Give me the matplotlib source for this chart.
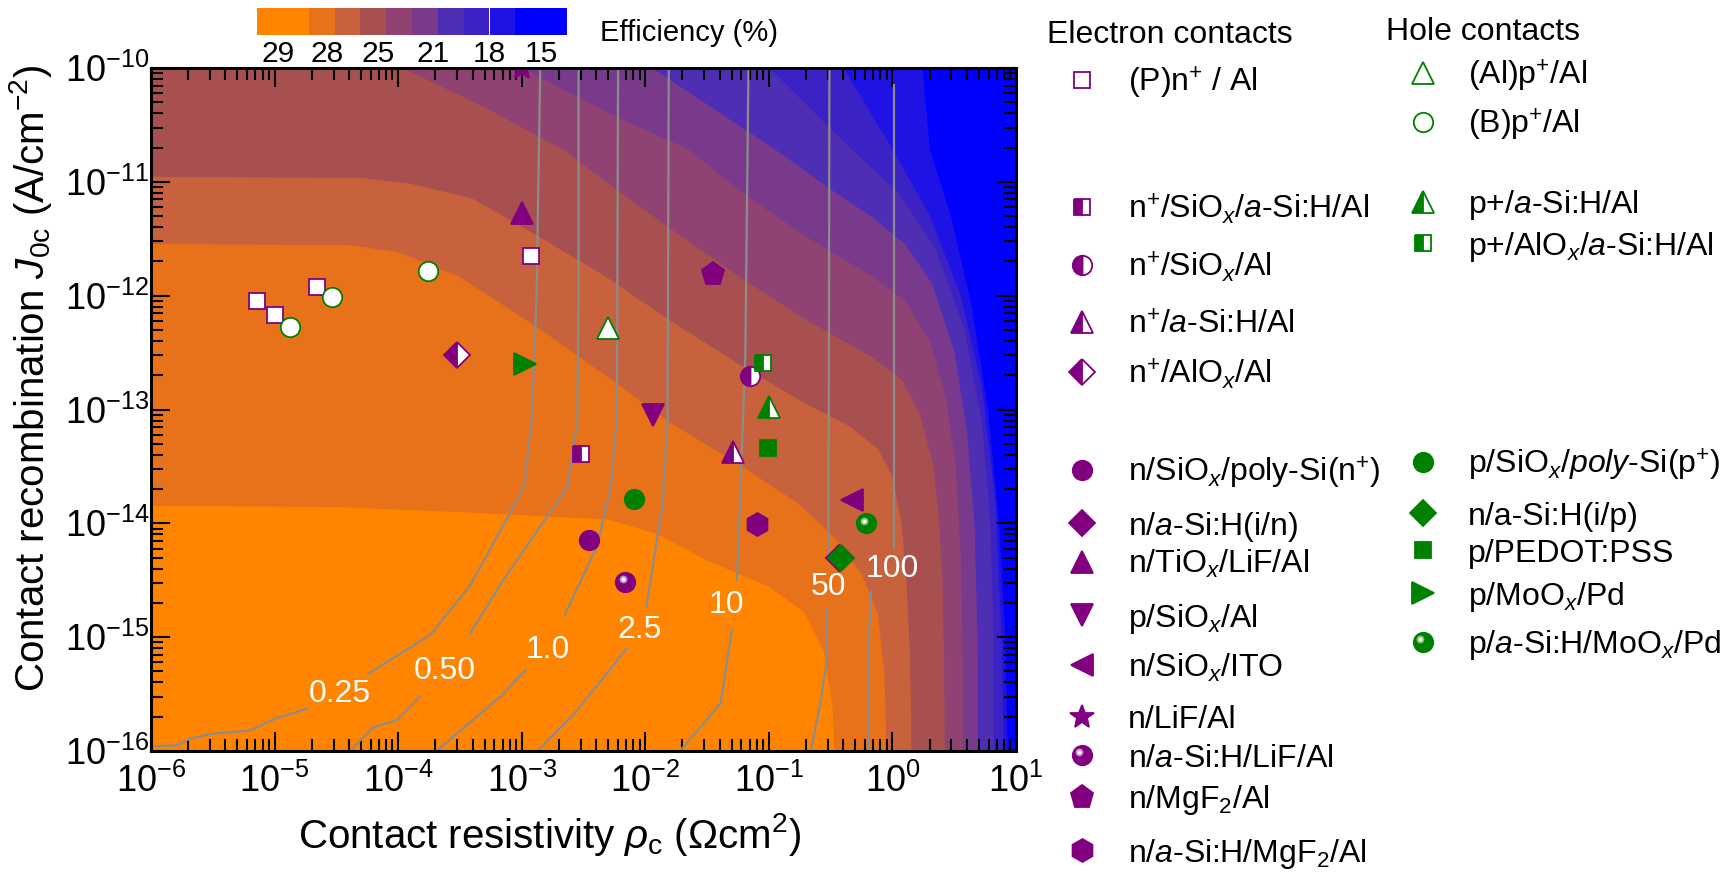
import numpy as np
import matplotlib
matplotlib.use("Agg")
import matplotlib.pyplot as plt
from matplotlib.ticker import LogLocator, NullFormatter, LogFormatterSciNotation
from matplotlib.transforms import ScaledTranslation

plt.rcParams["font.family"] = ["Liberation Sans", "DejaVu Sans"]
plt.rcParams["mathtext.fontset"] = "custom"
plt.rcParams["mathtext.rm"] = "Liberation Sans"
plt.rcParams["mathtext.it"] = "Liberation Sans:italic"
plt.rcParams["mathtext.bf"] = "Liberation Sans:bold"
plt.rcParams["mathtext.sf"] = "Liberation Sans"

PURPURA = "#800080"
VERDE = "#008000"
GRIS = "#8C8C8C"

# colores de las bandas de eficiencia (de mayor a menor eficiencia)
colores_banda = ["#FF8400", "#E8721A", "#C8623C", "#A85050", "#904272",
                 "#7A3A8C", "#4E2EB2", "#3A22C4", "#1E12E4", "#0000FF"]
etiquetas_barra = ["29", "28", "25", "21", "18", "15"]

# fronteras entre bandas, puntos (log10 rho_c, log10 J0c)
borde_1 = [(-6.0, -13.85), (-4.5, -13.86), (-3.4, -13.91), (-2.3, -13.97), (-1.9, -14.1),
           (-1.5, -14.33), (-1.0, -14.56), (-0.72, -14.78), (-0.56, -15.12), (-0.49, -15.6), (-0.47, -16.0)]
borde_2 = [(-6.0, -11.55), (-4.4, -11.56), (-4.0, -11.62), (-3.5, -11.84), (-2.85, -12.3),
           (-2.2, -12.8), (-1.8, -13.12), (-1.25, -13.48), (-0.75, -13.84), (-0.45, -14.15),
           (-0.25, -14.45), (-0.12, -14.8), (-0.07, -15.3), (-0.05, -16.0)]
borde_3 = [(-6.0, -10.96), (-4.3, -10.97), (-3.9, -11.02), (-3.4, -11.15), (-2.87, -11.48),
           (-2.33, -11.83), (-1.79, -12.23), (-1.25, -12.6), (-0.71, -12.95), (-0.35, -13.15),
           (-0.12, -13.35), (0.0, -13.6), (0.07, -14.0), (0.11, -14.5), (0.14, -15.2), (0.15, -16.0)]
borde_4 = [(-3.97, -10.0), (-3.3, -10.35), (-2.67, -10.72), (-2.2, -11.1), (-1.79, -11.42),
           (-1.25, -11.83), (-0.71, -12.21), (-0.17, -12.54), (0.08, -12.75), (0.22, -13.05),
           (0.32, -13.45), (0.37, -13.9), (0.4, -14.5), (0.415, -15.2), (0.42, -16.0)]
borde_5 = [(-3.0, -10.0), (-2.3, -10.4), (-1.65, -10.72), (-1.25, -11.07), (-0.71, -11.48),
           (-0.17, -11.83), (0.1, -12.05), (0.3, -12.4), (0.43, -12.9), (0.51, -13.5),
           (0.55, -14.3), (0.565, -15.2), (0.57, -16.0)]
borde_6 = [(-1.95, -10.0), (-0.95, -10.72), (-0.5, -11.07), (-0.17, -11.31), (0.1, -11.55),
           (0.32, -11.9), (0.5, -12.5), (0.6, -13.2), (0.66, -14.0), (0.685, -15.0), (0.69, -16.0)]
borde_7 = [(-1.0, -10.0), (-0.33, -10.72), (0.05, -11.1), (0.35, -11.6), (0.58, -12.3),
           (0.72, -13.1), (0.79, -14.0), (0.815, -15.0), (0.82, -16.0)]
borde_8 = [(-0.4, -10.0), (0.0, -10.72), (0.3, -11.3), (0.55, -12.0), (0.72, -12.8),
           (0.83, -13.8), (0.88, -15.0), (0.9, -16.0)]
borde_9 = [(0.24, -10.0), (0.3, -10.72), (0.47, -11.3), (0.64, -12.1), (0.77, -13.0),
           (0.86, -14.0), (0.91, -15.0), (0.93, -16.0)]
bordes = [borde_1, borde_2, borde_3, borde_4, borde_5, borde_6, borde_7, borde_8, borde_9]

# lineas de contorno grises: tramo inferior, tramo superior y posicion de la etiqueta
iso_025 = ([(-6.0, -15.96), (-5.79, -15.95), (-5.68, -15.89), (-5.52, -15.85), (-5.2, -15.82),
            (-4.98, -15.71), (-4.74, -15.63)],
           [(-4.24, -15.32), (-3.74, -14.98), (-3.42, -14.55), (-3.15, -14.02), (-2.98, -13.68),
            (-2.92, -13.1), (-2.88, -12.0), (-2.85, -10.0)], (-4.47, -15.5), "0.25")
iso_050 = ([(-4.39, -16.0), (-4.2, -15.79), (-4.01, -15.73), (-3.82, -15.52)],
           [(-3.42, -14.97), (-3.15, -14.5), (-2.87, -14.06), (-2.63, -13.68), (-2.55, -13.09),
            (-2.54, -12.0), (-2.54, -10.0)], (-3.62, -15.3), "0.50")
iso_1 = ([(-3.69, -16.0), (-3.17, -15.52), (-2.97, -15.29)],
         [(-2.65, -14.8), (-2.39, -14.2), (-2.28, -13.68), (-2.23, -13.09), (-2.22, -10.0)],
         (-2.79, -15.11), "1.0")
iso_25 = ([(-2.87, -16.0), (-2.55, -15.64), (-2.15, -15.1)],
          [(-1.99, -14.73), (-1.94, -14.38), (-1.86, -13.83), (-1.82, -13.09), (-1.81, -10.0)],
          (-2.05, -14.94), "2.5")
iso_10 = ([(-1.72, -16.0), (-1.39, -15.58), (-1.3, -14.94)],
          [(-1.26, -14.5), (-1.25, -14.3), (-1.21, -13.1), (-1.19, -12.5), (-1.165, -10.0)],
          (-1.34, -14.72), "10")
iso_50 = ([(-0.66, -16.0), (-0.58, -15.56), (-0.53, -15.2), (-0.53, -14.75)],
          [(-0.52, -14.32), (-0.515, -13.0), (-0.51, -10.0)], (-0.52, -14.56), "50")
iso_100 = ([(-0.19, -16.0), (-0.19, -14.95), (-0.17, -14.6)],
           [(0.01, -14.22), (0.01, -10.15)], (0.0, -14.4), "100")
isolineas = [iso_025, iso_050, iso_1, iso_25, iso_10, iso_50, iso_100]

# datos de contactos (rho_c en Ohm cm2, J0c en A/cm2)
x_pn_al = [7.2e-6, 1.0e-5, 2.2e-5, 1.19e-3]
y_pn_al = [9.0e-13, 6.8e-13, 1.18e-12, 2.23e-12]
x_n_siox_asi = [3.0e-3]
y_n_siox_asi = [4.05e-14]
x_n_siox = [0.0706]
y_n_siox = [1.98e-13]
x_n_asi = [0.0508]
y_n_asi = [4.25e-14]
x_n_alox = [3.0e-4]
y_n_alox = [3.0e-13]
x_n_poly = [3.5e-3]
y_n_poly = [7.2e-15]
x_n_asi_in = [0.372]
y_n_asi_in = [5.0e-15]
x_n_tiox = [1.0e-3]
y_n_tiox = [5.3e-12]
x_p_siox_al = [0.0116]
y_p_siox_al = [8.9e-14]
x_n_ito = [0.47]
y_n_ito = [1.6e-14]
x_n_lif = [1.0e-3]
y_n_lif = [1.0e-10]
x_n_asi_lif = [6.9e-3]
y_n_asi_lif = [3.06e-15]
x_n_mgf = [0.035]
y_n_mgf = [1.55e-12]
x_n_asi_mgf = [0.08]
y_n_asi_mgf = [9.8e-15]

x_alp_al = [5.0e-3]
y_alp_al = [5.2e-13]
x_bp_al = [1.33e-5, 2.9e-5, 1.74e-4]
y_bp_al = [5.3e-13, 9.7e-13, 1.66e-12]
x_p_asi = [0.1]
y_p_asi = [1.05e-13]
x_p_alox = [0.09]
y_p_alox = [2.54e-13]
x_p_poly = [8.1e-3]
y_p_poly = [1.62e-14]
x_n_asi_ip = [0.385]
y_n_asi_ip = [5.0e-15]
x_p_pedot = [0.099]
y_p_pedot = [4.6e-14]
x_p_moox = [1.06e-3]
y_p_moox = [2.5e-13]
x_p_asi_moox = [0.61]
y_p_asi_moox = [1.0e-14]

# (etiqueta, x, y, marcador, color, relleno, tamaño)
electrones = [
    ("(P)n$^{+}$ / Al", x_pn_al, y_pn_al, "s", PURPURA, "vacio", 12),
    ("n$^{+}$/SiO$_{x}$/$a$-Si:H/Al", x_n_siox_asi, y_n_siox_asi, "s", PURPURA, "mitad", 12),
    ("n$^{+}$/SiO$_{x}$/Al", x_n_siox, y_n_siox, "o", PURPURA, "mitad", 14),
    ("n$^{+}$/$a$-Si:H/Al", x_n_asi, y_n_asi, "^", PURPURA, "mitad", 16),
    ("n$^{+}$/AlO$_{x}$/Al", x_n_alox, y_n_alox, "D", PURPURA, "mitad", 13.5),
    ("n/SiO$_{x}$/poly-Si(n$^{+}$)", x_n_poly, y_n_poly, "o", PURPURA, "lleno", 14),
    ("n/$a$-Si:H(i/n)", x_n_asi_in, y_n_asi_in, "D", PURPURA, "lleno", 13.5),
    ("n/TiO$_{x}$/LiF/Al", x_n_tiox, y_n_tiox, "^", PURPURA, "lleno", 16),
    ("p/SiO$_{x}$/Al", x_p_siox_al, y_p_siox_al, "v", PURPURA, "lleno", 16),
    ("n/SiO$_{x}$/ITO", x_n_ito, y_n_ito, "<", PURPURA, "lleno", 16),
    ("n/LiF/Al", x_n_lif, y_n_lif, "*", PURPURA, "lleno", 18),
    ("n/$a$-Si:H/LiF/Al", x_n_asi_lif, y_n_asi_lif, "o", PURPURA, "bola", 14),
    ("n/MgF$_{2}$/Al", x_n_mgf, y_n_mgf, "p", PURPURA, "lleno", 17),
    ("n/$a$-Si:H/MgF$_{2}$/Al", x_n_asi_mgf, y_n_asi_mgf, "h", PURPURA, "lleno", 16.5),
]
huecos = [
    ("(Al)p$^{+}$/Al", x_alp_al, y_alp_al, "^", VERDE, "vacio", 16),
    ("(B)p$^{+}$/Al", x_bp_al, y_bp_al, "o", VERDE, "vacio", 14),
    ("p+/$a$-Si:H/Al", x_p_asi, y_p_asi, "^", VERDE, "mitad", 16),
    ("p+/AlO$_{x}$/$a$-Si:H/Al", x_p_alox, y_p_alox, "s", VERDE, "mitad", 12),
    ("p/SiO$_{x}$/$poly$-Si(p$^{+}$)", x_p_poly, y_p_poly, "o", VERDE, "lleno", 14),
    ("n/a-Si:H(i/p)", x_n_asi_ip, y_n_asi_ip, "D", VERDE, "lleno", 13.5),
    ("p/PEDOT:PSS", x_p_pedot, y_p_pedot, "s", VERDE, "lleno", 12),
    ("p/MoO$_{x}$/Pd", x_p_moox, y_p_moox, ">", VERDE, "lleno", 16),
    ("p/$a$-Si:H/MoO$_{x}$/Pd", x_p_asi_moox, y_p_asi_moox, "o", VERDE, "bola", 14),
]

# filas de la leyenda (pixeles de la figura)
filas_electrones = [80, 206.7, 265, 321.7, 371.7, 470, 523.3, 561.7, 615, 665, 716.7, 755, 796.7, 850]
filas_huecos = [73.3, 121.7, 201.7, 243.3, 461.7, 513.3, 550, 593.3, 641.7]

W, H = 1730, 872
fig = plt.figure(figsize=(W / 100, H / 100), dpi=100)
ax = fig.add_axes([151 / W, 1 - 751 / H, (1016 - 151) / W, (751 - 68) / H])
ax.set_facecolor(colores_banda[-1])
ax.set_xscale("log")
ax.set_yscale("log")
ax.set_xlim(1e-6, 1e1)
ax.set_ylim(1e-16, 1e-10)

#Se rellenan las bandas desde la exterior hasta la interior
for i in range(len(bordes) - 1, -1, -1):
    borde = list(bordes[i])
    if borde[0][1] >= -10.0:
        poligono = [(-6.2, -9.8), (borde[0][0], -9.8)] + borde + [(borde[-1][0], -16.2), (-6.2, -16.2)]
    else:
        poligono = [(-6.2, borde[0][1])] + borde + [(borde[-1][0], -16.2), (-6.2, -16.2)]
    px = 10 ** np.array([p[0] for p in poligono])
    py = 10 ** np.array([p[1] for p in poligono])
    ax.fill(px, py, color=colores_banda[i], lw=0.6, ec=colores_banda[i], zorder=1)

#Se dibujan las isolineas con sus etiquetas
for inferior, superior, pos, texto in isolineas:
    for tramo in (inferior, superior):
        ax.plot(10 ** np.array([p[0] for p in tramo]), 10 ** np.array([p[1] for p in tramo]),
                color=GRIS, lw=1.6, zorder=2)
    ax.text(10 ** pos[0], 10 ** pos[1], texto, color="white", fontsize=23,
            ha="center", va="center", zorder=3)


def marcador(eje, x, y, m, color, relleno, size, transform=None):
    kw = dict(linestyle="none", marker=m, markersize=size, markeredgecolor=color,
              markeredgewidth=1.3, zorder=5)
    if transform is not None:
        kw["transform"] = transform
    if relleno == "vacio":
        eje.plot(x, y, markerfacecolor="white", **kw)
    elif relleno == "mitad":
        eje.plot(x, y, fillstyle="left", markerfacecolor=color, markerfacecoloralt="white", **kw)
    else:
        eje.plot(x, y, markerfacecolor=color, **kw)
    if relleno == "bola":
        claro = "#C890C8" if color == PURPURA else "#80C880"
        base = transform if transform is not None else eje.transData
        t1 = base + ScaledTranslation(-size * 0.12 / 72, size * 0.14 / 72, fig.dpi_scale_trans)
        eje.plot(x, y, linestyle="none", marker="o", markersize=size * 0.4, color=claro,
                 markeredgewidth=0, transform=t1, zorder=6)
        eje.plot(x, y, linestyle="none", marker="o", markersize=size * 0.2, color="white",
                 markeredgewidth=0, transform=t1, zorder=7)


for etiqueta, x, y, m, color, relleno, size in electrones + huecos:
    marcador(ax, x, y, m, color, relleno, size)

#Se configuran los ejes
ax.xaxis.set_major_locator(LogLocator(base=10, numticks=20))
ax.yaxis.set_major_locator(LogLocator(base=10, numticks=20))
ax.xaxis.set_minor_locator(LogLocator(base=10, subs=np.arange(2, 10), numticks=20))
ax.yaxis.set_minor_locator(LogLocator(base=10, subs=np.arange(2, 10), numticks=20))
ax.xaxis.set_major_formatter(LogFormatterSciNotation())
ax.yaxis.set_major_formatter(LogFormatterSciNotation())
ax.xaxis.set_minor_formatter(NullFormatter())
ax.yaxis.set_minor_formatter(NullFormatter())
ax.tick_params(which="both", direction="in", top=True, right=True, width=1.5, colors="black")
ax.tick_params(which="major", length=14, labelsize=26)
ax.tick_params(which="minor", length=8.5)
ax.tick_params(axis="x", which="major", pad=9)
ax.tick_params(axis="y", which="major", pad=1)
for lado in ax.spines.values():
    lado.set_linewidth(2.2)
    lado.set_zorder(10)

#Capa para la leyenda y textos en pixeles
capa = fig.add_axes([0, 0, 1, 1], facecolor="none")
capa.set_xlim(0, W)
capa.set_ylim(H, 0)
capa.axis("off")

capa.text(550, 834, "Contact resistivity $\\rho_{\\mathrm{c}}$ ($\\Omega$cm$^{2}$)", fontsize=29,
          ha="center", va="center")
capa.text(31, 378, "Contact recombination $J_{\\mathrm{0c}}$ (A/cm$^{-2}$)", fontsize=29,
          ha="center", va="center", rotation=90)

capa.text(1046.6, 43, "Electron contacts", fontsize=23, ha="left", va="baseline")
capa.text(1386, 39.5, "Hole contacts", fontsize=23, ha="left", va="baseline")
for (etiqueta, x, y, m, color, relleno, size), fy in zip(electrones, filas_electrones):
    marcador(capa, [1081.5], [fy], m, color, relleno, size)
    capa.text(1128, fy + 11.5, etiqueta, fontsize=23, ha="left", va="baseline")
for (etiqueta, x, y, m, color, relleno, size), fy in zip(huecos, filas_huecos):
    marcador(capa, [1422.7], [fy], m, color, relleno, size)
    capa.text(1468, fy + 11.5, etiqueta, fontsize=23, ha="left", va="baseline")

#Barra de colores superior
barra = fig.add_axes([257 / W, 1 - 35 / H, 310 / W, 27 / H])
izq = [0, 2, 3, 4, 5, 6, 7, 8, 9, 10]
anchos = [2, 1, 1, 1, 1, 1, 1, 1, 1, 2]
barra.bar(izq, [1] * 10, width=anchos, align="edge", color=colores_banda, lw=0)
barra.set_xlim(0, 12)
barra.set_ylim(0, 1)
barra.axis("off")
pos_etiquetas = [0.8, 2.7, 4.7, 6.8, 9.0, 11.0]
for p, t in zip(pos_etiquetas, etiquetas_barra):
    capa.text(257 + p * 310 / 12, 61.5, t, fontsize=21.5, ha="center", va="baseline")
capa.text(600, 41, "Efficiency (%)", fontsize=21, ha="left", va="baseline")

fig.savefig("out.png", dpi=100)
